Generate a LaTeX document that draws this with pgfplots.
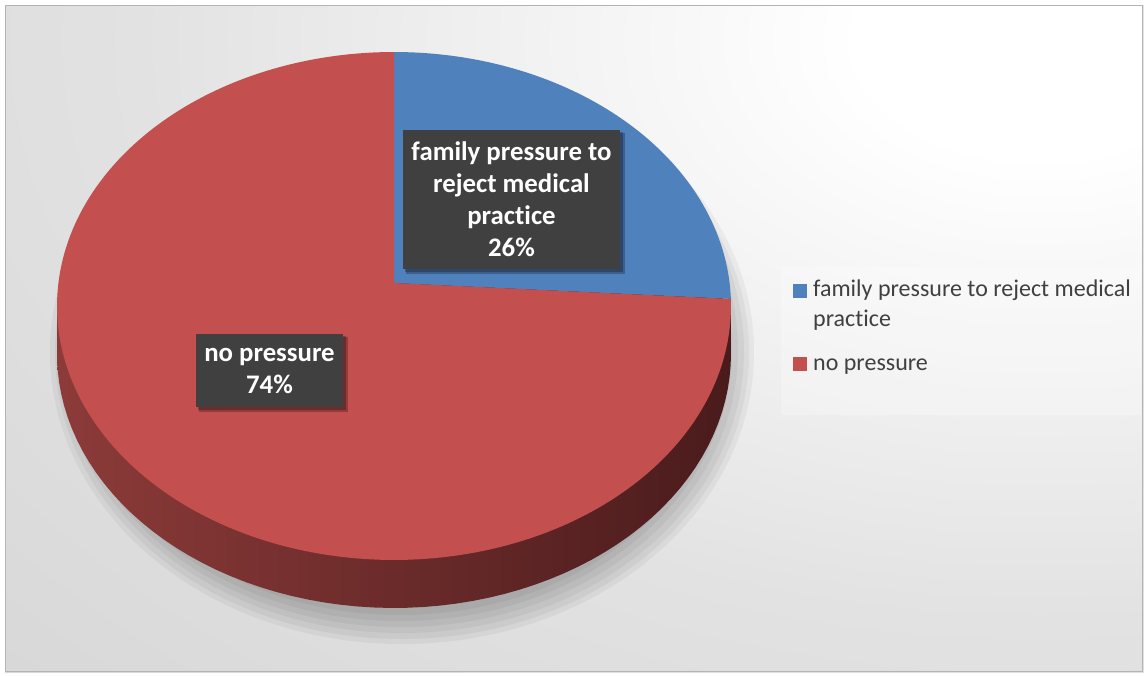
\documentclass[border=0pt]{standalone}
\usepackage{pgfplots}
\pgfplotsset{compat=1.18}
\usepackage{pgfplotstable}
\usepackage{fontspec}
\setmainfont{Carlito}[Ligatures=NoCommon]
\definecolor{pieblue}{HTML}{4F81BD}
\definecolor{piered}{HTML}{C3504E}
\definecolor{sideL}{HTML}{8C3B39}
\definecolor{sideM}{HTML}{561F1F}
\definecolor{sideR}{HTML}{4A1B1C}
\definecolor{bgout}{HTML}{CBCBCB}
\definecolor{bgmid}{HTML}{E2E2E2}
\definecolor{lblbox}{HTML}{404040}
\definecolor{legtext}{HTML}{404040}
\definecolor{framecol}{HTML}{B4B4B4}
\pgfdeclareradialshading{bgshade}{\pgfpoint{0bp}{0bp}}{color(0bp)=(white); color(3bp)=(white); color(15bp)=(bgmid); color(35bp)=(bgout); color(50bp)=(bgout)}

\pgfplotstableread{
idx value
0 26
1 74
}\piedata

\begin{document}
\begin{tikzpicture}
\pgfplotstablegetelem{0}{value}\of\piedata \let\vA\pgfplotsretval
\pgfplotstablegetelem{1}{value}\of\piedata \let\vB\pgfplotsretval
\pgfmathsetmacro\total{\vA+\vB}
\pgfmathsetmacro\angB{90-\vA/\total*360}
\pgfmathsetmacro\angC{90+\vB/\total*360}
\begin{axis}[at={(0,0)}, anchor=south west, width=1147pt, height=675pt,
  scale only axis, xmin=0, xmax=1147, ymin=0, ymax=675, y dir=reverse,
  hide axis, clip=false]
% background
\fill[white] (axis cs:0,0) rectangle (axis cs:1147,675);
\begin{scope}
\clip (axis cs:5,5) rectangle (axis cs:1143,672);
\fill[bgout] (axis cs:5,5) rectangle (axis cs:1143,672);
\fill[shading=bgshade] (axis cs:1040,40) ellipse [x radius=1500pt, y radius=970pt];
\end{scope}
\draw[framecol, line width=1pt] (axis cs:5.5,5.5) rectangle (axis cs:1142.5,671.5);
% shadow
\fill[black, opacity=0.045] (axis cs:402,352) ellipse [x radius=352pt, y radius=292pt];
\fill[black, opacity=0.045] (axis cs:402,352) ellipse [x radius=347pt, y radius=287pt];
\fill[black, opacity=0.045] (axis cs:402,351) ellipse [x radius=342pt, y radius=282pt];
\fill[black, opacity=0.045] (axis cs:401,350) ellipse [x radius=337pt, y radius=277pt];
\fill[black, opacity=0.045] (axis cs:400,349) ellipse [x radius=332pt, y radius=272pt];
\fill[black, opacity=0.045] (axis cs:400,348) ellipse [x radius=327pt, y radius=267pt];
% side of the pie
\addplot[draw=none, left color=sideL, middle color=sideM, right color=sideR,
  domain=0:360, samples=140, variable=\t]
  ({394+335.6*cos(\t)/(1+0.0905*sin(\t))}, {331-251.9*sin(\t)/(1+0.0905*sin(\t))}) -- cycle;
\fill[left color=sideL, middle color=sideM, right color=sideR] (axis cs:57.1,306) rectangle (axis cs:730.9,354);
% top face: slices from the data
\addplot[fill=pieblue, draw=none, domain=\angB:90, samples=80, variable=\t]
  ({394+335.6*cos(\t)/(1+0.0905*sin(\t))}, {283-251.9*sin(\t)/(1+0.0905*sin(\t))}) -- (axis cs:394,283) -- cycle;
\addplot[fill=piered, draw=none, domain=90:\angC, samples=200, variable=\t]
  ({394+335.6*cos(\t)/(1+0.0905*sin(\t))}, {283-251.9*sin(\t)/(1+0.0905*sin(\t))}) -- (axis cs:394,283) -- cycle;
% data labels
\fill[black, opacity=0.25] (axis cs:406,133) rectangle (axis cs:625,274);
\fill[black, opacity=0.25] (axis cs:405,132) rectangle (axis cs:623,272);
\fill[lblbox] (axis cs:403,130) rectangle (axis cs:620,269);
\node[white, font=\fontsize{26.8}{32}\selectfont\bfseries, align=center, inner sep=0pt]
  at (axis cs:511.5,199) {family pressure to\\reject medical\\practice\\26\%};
\fill[black, opacity=0.25] (axis cs:199,337) rectangle (axis cs:348,412);
\fill[black, opacity=0.25] (axis cs:198,336) rectangle (axis cs:346,410);
\fill[lblbox] (axis cs:196,334) rectangle (axis cs:343,407);
\node[white, font=\fontsize{26.8}{32}\selectfont\bfseries, align=center, inner sep=0pt]
  at (axis cs:269.5,371) {no pressure\\74\%};
% legend
\fill[white, opacity=0.25] (axis cs:781,267) rectangle (axis cs:1141,415);
\fill[pieblue] (axis cs:793,284) rectangle (axis cs:807,298);
\fill[piered] (axis cs:793,357) rectangle (axis cs:807,371);
\node[anchor=base west, text=legtext, font=\fontsize{24}{30}\selectfont, inner sep=0pt]
  at (axis cs:813,296) {family pressure to reject medical};
\node[anchor=base west, text=legtext, font=\fontsize{24}{30}\selectfont, inner sep=0pt]
  at (axis cs:813,326) {practice};
\node[anchor=base west, text=legtext, font=\fontsize{24}{30}\selectfont, inner sep=0pt]
  at (axis cs:813,370) {no pressure};
\end{axis}
\end{tikzpicture}
\end{document}
